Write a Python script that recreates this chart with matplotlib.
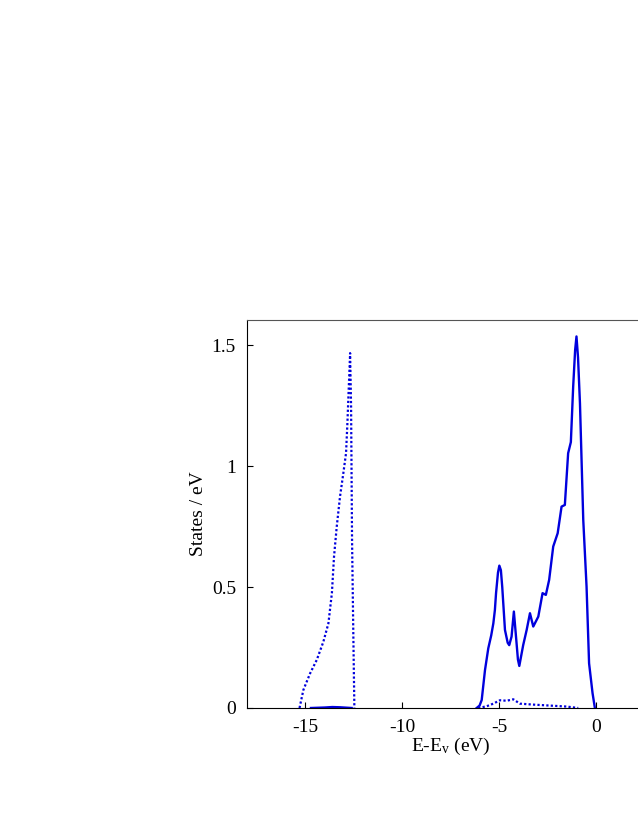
import matplotlib
matplotlib.use("Agg")
import matplotlib.pyplot as plt

plt.rcParams["font.family"] = ["Liberation Serif", "DejaVu Serif"]
plt.rcParams["mathtext.fontset"] = "custom"
plt.rcParams["mathtext.rm"] = "Liberation Serif"
plt.rcParams["mathtext.it"] = "Liberation Serif:italic"

# valence-band DOS (solid)
vb_energy = [-6.15, -6.0, -5.89, -5.72, -5.55, -5.40, -5.29, -5.21, -5.15, -5.05, -4.98,
             -4.90, -4.83, -4.69, -4.55, -4.47, -4.35, -4.23, -4.12, -4.02, -3.95,
             -3.75, -3.57, -3.40, -3.23, -2.97, -2.75, -2.58, -2.41, -2.20, -1.97,
             -1.77, -1.60, -1.43, -1.29, -1.17, -1.07, -1.00, -0.92, -0.82, -0.65,
             -0.48, -0.35, -0.17, -0.05]
vb_dos = [0.0, 0.01, 0.033, 0.157, 0.247, 0.30, 0.35, 0.405, 0.475, 0.56, 0.589,
          0.57, 0.50, 0.323, 0.27, 0.26, 0.295, 0.399, 0.295, 0.20, 0.174,
          0.26, 0.323, 0.392, 0.337, 0.378, 0.475, 0.468, 0.53, 0.668, 0.723,
          0.833, 0.84, 1.054, 1.10, 1.33, 1.48, 1.537, 1.45, 1.26, 0.778,
          0.502, 0.185, 0.061, 0.0]

# small solid contribution in the low-lying band
low_energy = [-14.7, -14.0, -13.6, -13.2, -12.6]
low_dos = [0.0, 0.002, 0.004, 0.003, 0.0]

# low-lying band (dotted)
s_energy = [-15.29, -15.09, -14.74, -14.40, -14.06, -13.80, -13.62, -13.51, -13.37, -13.20,
            -13.03, -12.89, -12.82, -12.72, -12.68, -12.63, -12.58, -12.51, -12.46]
s_dos = [0.0, 0.075, 0.144, 0.199, 0.274, 0.35, 0.475, 0.626, 0.75, 0.875,
         0.971, 1.054, 1.178, 1.385, 1.468, 1.247, 0.695, 0.281, 0.0]

# small dotted contribution in the valence band
s2_energy = [-6.07, -5.64, -5.29, -4.95, -4.60, -4.26, -3.92, -3.23, -2.37, -1.51, -0.91]
s2_dos = [0.0, 0.007, 0.018, 0.032, 0.03, 0.036, 0.018, 0.014, 0.01, 0.006, 0.0]

blue = "#0000dd"

fig = plt.figure(figsize=(6.38, 8.25), dpi=100)
ax = fig.add_axes([247 / 638, 117 / 825, 407 / 638, 388 / 825])

ax.plot(vb_energy, vb_dos, color=blue, lw=1.7)
ax.plot(low_energy, low_dos, color=blue, lw=1.7)
ax.plot(s_energy, s_dos, color=blue, lw=1.6, linestyle=(0, (1, 1)))
ax.plot(s2_energy, s2_dos, color=blue, lw=1.6, linestyle=(0, (1, 1)))

ax.set_xlim(-18, 3)
ax.set_ylim(0, 1.605)
ax.set_xticks([-15, -10, -5, 0])
ax.set_xticklabels(["-15", "-10", "-5", "0"])
ax.set_yticks([0, 0.5, 1, 1.5])
ax.set_yticklabels(["0", "0.5", "1", "1.5"])
ax.tick_params(direction="in", length=4, labelsize=14, pad=8, top=False, right=False)

ax.spines["top"].set_color("#555555")
ax.spines["right"].set_visible(False)
for s in ["left", "bottom"]:
    ax.spines[s].set_color("black")

ax.set_xlabel(r"E-E$_\mathrm{v}$ (eV)", fontsize=14, labelpad=0)
ax.set_ylabel("States / eV", fontsize=14, labelpad=3)

fig.savefig("out.png", dpi=100)
